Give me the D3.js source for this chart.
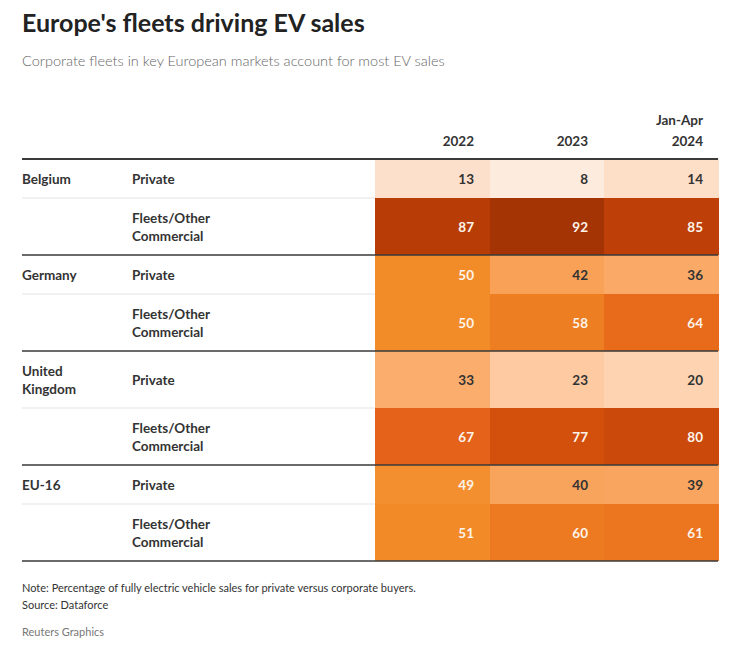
<!DOCTYPE html>
<html>
<head>
<meta charset="utf-8">
<script src="https://cdn.jsdelivr.net/npm/d3@7/dist/d3.min.js"></script>
<style>
  html, body { margin: 0; padding: 0; background: #fff; }
  svg { display: block; font-family: "Lato", "Noto Sans", sans-serif; }
</style>
</head>
<body>
<svg id="chart" width="740" height="650"></svg>
<script>
// ---- data ----
const countries = ["Belgium", "Germany", "United Kingdom", "EU-16"];
const buyerTypes = ["Private", "Fleets/Other Commercial"];
const periods = ["2022", "2023", "Jan-Apr 2024"];
const privateValues = [
  [13, 8, 14],
  [50, 42, 36],
  [33, 23, 20],
  [49, 40, 39]
];
const fleetValues = [
  [87, 92, 85],
  [50, 58, 64],
  [67, 77, 80],
  [51, 60, 61]
];
const titleText = "Europe's fleets driving EV sales";
const subtitleText = "Corporate fleets in key European markets account for most EV sales";
const noteText = "Note: Percentage of fully electric vehicle sales for private versus corporate buyers.";
const sourceText = "Source: Dataforce";
const creditText = "Reuters Graphics";

// ---- layout ----
const svg = d3.select("#chart");
const left = 22, right = 718;
const heatLeft = 375;
const countryX = 22, buyerX = 132;
const tableTop = 159;
const lineH = 18;

// rows
const rows = [];
countries.forEach((c, ci) => {
  buyerTypes.forEach((b, bi) => {
    rows.push({
      country: bi === 0 ? c : "",
      buyer: b,
      ci, bi,
      values: (bi === 0 ? privateValues : fleetValues)[ci]
    });
  });
});

// measuring helper for wrapping
const measure = svg.append("text").attr("font-size", 13.5).attr("font-weight", 700).attr("visibility", "hidden");
function wrap(str, maxW) {
  const words = str.split(" ");
  const lines = [];
  let cur = "";
  words.forEach(w => {
    const test = cur ? cur + " " + w : w;
    measure.text(test);
    if (measure.node().getComputedTextLength() > maxW && cur) {
      lines.push(cur); cur = w;
    } else cur = test;
  });
  if (cur) lines.push(cur);
  return lines;
}
rows.forEach(r => {
  r.countryLines = r.country ? wrap(r.country, 80) : [];
  r.buyerLines = wrap(r.buyer, 100);
  r.nLines = Math.max(r.countryLines.length, r.buyerLines.length);
  r.h = r.nLines > 1 ? 57 : 39;
});
measure.remove();
let yy = tableTop;
rows.forEach(r => { r.y0 = yy; yy += r.h; r.y1 = yy; r.cy = (r.y0 + r.y1) / 2; });
const tableBottom = yy;

const x = d3.scaleBand().domain(periods).range([heatLeft, right + 1]).padding(0);
const colL = p => Math.round(x(p));
const colR = p => Math.round(x(p) + x.bandwidth());

const color = d3.scaleLinear()
  .domain([0, 8, 13, 20, 33, 42, 50, 60, 66, 78, 86, 92])
  .range(["#fff5ec", "#fdebde", "#fde0cb", "#fdd3b2", "#fbad6e", "#f8a157", "#f28c28",
          "#ed7a20", "#e6641a", "#d04d0b", "#bb3d06", "#a53404"])
  .clamp(true);

// ---- title ----
svg.append("text").attr("x", 22).attr("y", 32)
  .attr("font-size", 25).attr("font-weight", 700).attr("fill", "#222")
  .text(titleText);
svg.append("text").attr("x", 22).attr("y", 66)
  .attr("font-size", 14.5).attr("font-weight", 300).attr("fill", "#666")
  .text(subtitleText);

// ---- header ----
const header = svg.append("g");
periods.forEach(p => {
  const parts = p.split(" ");
  const xr = colR(p) - 16;
  parts.forEach((t, i) => {
    header.append("text")
      .attr("x", xr)
      .attr("y", 146 - (parts.length - 1 - i) * 21)
      .attr("text-anchor", "end")
      .attr("font-size", 13.5).attr("font-weight", 700).attr("fill", "#333")
      .text(t);
  });
});

// ---- inner separators (label area) ----
rows.forEach(r => {
  if (r.bi === 0) {
    svg.append("line").attr("x1", left).attr("x2", heatLeft)
      .attr("y1", r.y1).attr("y2", r.y1)
      .attr("stroke", "#e3e3e3").attr("stroke-width", 1);
  }
});

// ---- cells ----
const cellG = svg.append("g");
rows.forEach(r => {
  periods.forEach((p, pi) => {
    const v = r.values[pi];
    const c = color(v);
    cellG.append("rect")
      .attr("x", colL(p)).attr("y", r.y0)
      .attr("width", colR(p) - colL(p)).attr("height", r.h)
      .attr("fill", c);
    cellG.append("text")
      .attr("x", colR(p) - 16)
      .attr("y", r.cy + 5)
      .attr("text-anchor", "end")
      .attr("font-size", 13.5).attr("font-weight", 700)
      .attr("fill", d3.lab(c).l > 71 ? "#333" : "#fdf3ea")
      .text(v);
  });
});

// ---- labels ----
rows.forEach(r => {
  const n1 = r.countryLines.length;
  r.countryLines.forEach((t, i) => {
    svg.append("text").attr("x", countryX)
      .attr("y", r.cy + 5 - (n1 - 1) * lineH / 2 + i * lineH)
      .attr("font-size", 13.5).attr("font-weight", 700).attr("fill", "#333")
      .text(t);
  });
  const n2 = r.buyerLines.length;
  r.buyerLines.forEach((t, i) => {
    svg.append("text").attr("x", buyerX)
      .attr("y", r.cy + 5 - (n2 - 1) * lineH / 2 + i * lineH)
      .attr("font-size", 13.5).attr("font-weight", 700).attr("fill", "#333")
      .text(t);
  });
});

// ---- group separators ----
const groupYs = [tableTop].concat(rows.filter(r => r.bi === 1).map(r => r.y1));
groupYs.forEach((y, i) => {
  svg.append("line").attr("x1", left).attr("x2", right)
    .attr("y1", y).attr("y2", y)
    .attr("stroke", "#3a3a3a").attr("stroke-width", i === 0 ? 2 : 1.5);
});

// ---- footer ----
svg.append("text").attr("x", 22).attr("y", tableBottom + 31)
  .attr("font-size", 11).attr("fill", "#333").text(noteText);
svg.append("text").attr("x", 22).attr("y", tableBottom + 48)
  .attr("font-size", 11).attr("fill", "#333").text(sourceText);
svg.append("text").attr("x", 22).attr("y", tableBottom + 75)
  .attr("font-size", 11).attr("fill", "#777").text(creditText);
</script>
</body>
</html>
